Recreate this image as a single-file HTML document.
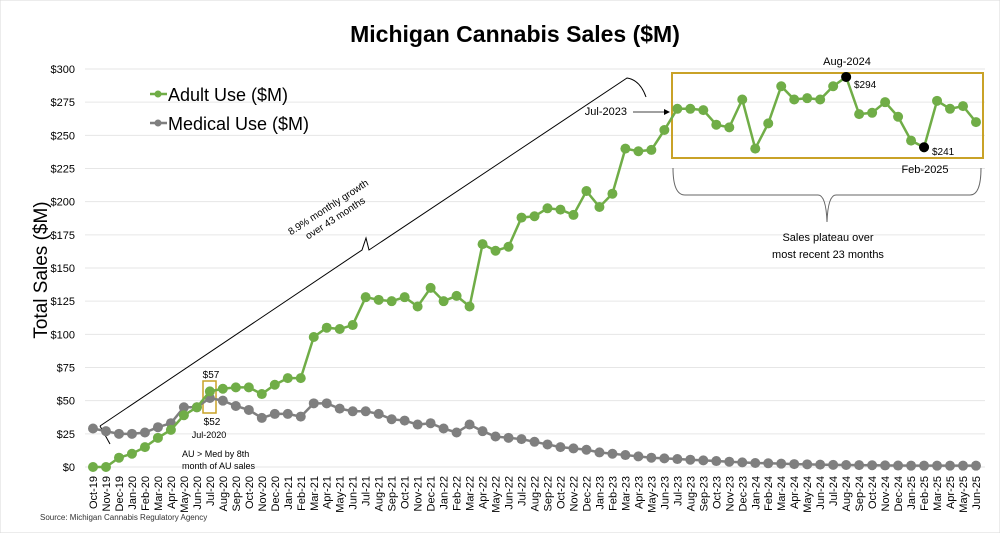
<!DOCTYPE html>
<html><head><meta charset="utf-8"><style>
body{margin:0;background:#fff;}
svg{display:block;font-family:"Liberation Sans",sans-serif;}
</style></head><body>
<svg id="chart" width="1000" height="533">
<rect x="0" y="0" width="1000" height="533" fill="#fff" stroke="#d9d9d9"/>
<text x="515" y="42" text-anchor="middle" font-size="23" font-weight="bold" fill="#000">Michigan Cannabis Sales ($M)</text>
<text transform="translate(47,270) rotate(-90)" text-anchor="middle" font-size="19" fill="#000">Total Sales ($M)</text>
<g id="grid"></g><g id="ylabels"></g><g id="xlabels"></g>
<g id="annot">
<path d="M100,426 L362,250 L366,238 L369,250 L627,78 Q640,80 646,97" fill="none" stroke="#000" stroke-width="1"/>
<line x1="100" y1="426" x2="110" y2="444" stroke="#000" stroke-width="1"/>
<text transform="translate(330,210) rotate(-33)" text-anchor="middle" font-size="10" fill="#000"><tspan x="0" dy="0">8.9% monthly growth</tspan><tspan x="0" dy="13">over 43 months</tspan></text>
<rect x="203" y="381" width="13" height="32" fill="none" stroke="#c9a227" stroke-width="1.5"/>
<text x="211" y="378" text-anchor="middle" font-size="10">$57</text>
<text x="212" y="425" text-anchor="middle" font-size="10">$52</text>
<text x="209" y="438" text-anchor="middle" font-size="9">Jul-2020</text>
<text x="182" y="457" font-size="9">AU &gt; Med by 8th</text>
<text x="182" y="469" font-size="9">month of AU sales</text>
<rect x="672" y="73" width="311" height="85" fill="none" stroke="#c9a227" stroke-width="2"/>
<text x="627" y="115" text-anchor="end" font-size="11">Jul-2023</text>
<line x1="633" y1="112" x2="665" y2="112" stroke="#000" stroke-width="0.8"/>
<polygon points="670,112 664,109 664,115" fill="#000"/>
<text x="847" y="65" text-anchor="middle" font-size="11">Aug-2024</text>
<text x="854" y="88" font-size="10">$294</text>
<text x="932" y="155" font-size="10">$241</text>
<text x="925" y="173" text-anchor="middle" font-size="11">Feb-2025</text>
<path d="M673,168 Q673,195 685,195 L818,195 Q826,195 827,222 Q828,195 836,195 L970,195 Q981,195 981,168" fill="none" stroke="#666" stroke-width="1"/>
<text x="828" y="241" text-anchor="middle" font-size="11">Sales plateau over</text>
<text x="828" y="258" text-anchor="middle" font-size="11">most recent 23 months</text>
</g>
<g id="series"></g>
<g>
<line x1="150" y1="94" x2="167" y2="94" stroke="#70ad47" stroke-width="2.5"/>
<circle cx="158" cy="94" r="3.5" fill="#70ad47"/>
<text x="168" y="101" font-size="18">Adult Use ($M)</text>
<line x1="150" y1="123" x2="167" y2="123" stroke="#7f7f7f" stroke-width="2.5"/>
<circle cx="158" cy="123" r="3.5" fill="#7f7f7f"/>
<text x="168" y="130" font-size="18">Medical Use ($M)</text>
</g>
<text x="40" y="520" font-size="8" fill="#333">Source: Michigan Cannabis Regulatory Agency</text>
</svg>
<script>
const months=["Oct-19","Nov-19","Dec-19","Jan-20","Feb-20","Mar-20","Apr-20","May-20","Jun-20","Jul-20","Aug-20","Sep-20","Oct-20","Nov-20","Dec-20","Jan-21","Feb-21","Mar-21","Apr-21","May-21","Jun-21","Jul-21","Aug-21","Sep-21","Oct-21","Nov-21","Dec-21","Jan-22","Feb-22","Mar-22","Apr-22","May-22","Jun-22","Jul-22","Aug-22","Sep-22","Oct-22","Nov-22","Dec-22","Jan-23","Feb-23","Mar-23","Apr-23","May-23","Jun-23","Jul-23","Aug-23","Sep-23","Oct-23","Nov-23","Dec-23","Jan-24","Feb-24","Mar-24","Apr-24","May-24","Jun-24","Jul-24","Aug-24","Sep-24","Oct-24","Nov-24","Dec-24","Jan-25","Feb-25","Mar-25","Apr-25","May-25","Jun-25"];
const adultUse=[0,0,7,10,15,22,28,39,45,57,59,60,60,55,62,67,67,98,105,104,107,128,126,125,128,121,135,125,129,121,168,163,166,188,189,195,194,190,208,196,206,240,238,239,254,270,270,269,258,256,277,240,259,287,277,278,277,287,294,266,267,275,264,246,241,276,270,272,260];
const medicalUse=[29,27,25,25,26,30,33,45,45,52,50,46,43,37,40,40,38,48,48,44,42,42,40,36,35,32,33,29,26,32,27,23,22,21,19,17,15,14,13,11,10,9,8,7,6.5,6,5.5,5,4.5,4,3.5,3,2.8,2.5,2.2,2,1.8,1.6,1.5,1.4,1.3,1.2,1.1,1,1,1,1,1,1];
const yTicks=[0,25,50,75,100,125,150,175,200,225,250,275,300];
const highlightIdx=[58,64];
const NS="http://www.w3.org/2000/svg";
const X=i=>93+i*(976-93)/(months.length-1);
const Y=v=>467-v*(467-69)/300;
function mk(tag,attrs,parent){const e=document.createElementNS(NS,tag);for(const k in attrs)e.setAttribute(k,attrs[k]);parent.appendChild(e);return e;}
const grid=document.getElementById('grid'),yl=document.getElementById('ylabels'),xl=document.getElementById('xlabels'),ser=document.getElementById('series');
yTicks.forEach(t=>{
 const l=mk('line',{x1:85,x2:985,y1:Y(t),y2:Y(t),stroke:'#e6e6e6','stroke-width':1},grid);
 
 
 const tx=mk('text',{x:75,y:Y(t)+4,'text-anchor':'end','font-size':11},yl);
 tx.textContent='$'+t;
 
 
});
months.forEach((m,i)=>{
 const tx=mk('text',{transform:`translate(${X(i)+4},476) rotate(-90)`,'text-anchor':'end','font-size':11},xl);
 tx.textContent=m;
 
 
});
function drawSeries(vals,color,name){
 const p=mk('polyline',{points:vals.map((v,i)=>X(i)+','+Y(v)).join(' '),fill:'none',stroke:color,'stroke-width':2.5},ser);
 
 
 vals.forEach((v,i)=>{
  const c=mk('circle',{cx:X(i),cy:Y(v),r:5,fill:color},ser);
  
  
 });
}
drawSeries(medicalUse,'#7f7f7f','medical-use');
drawSeries(adultUse,'#70ad47','adult-use');
highlightIdx.forEach(i=>{
 const c=mk('circle',{cx:X(i),cy:Y(adultUse[i]),r:5,fill:'#000'},ser);
 
 
});
</script>
</body></html>
